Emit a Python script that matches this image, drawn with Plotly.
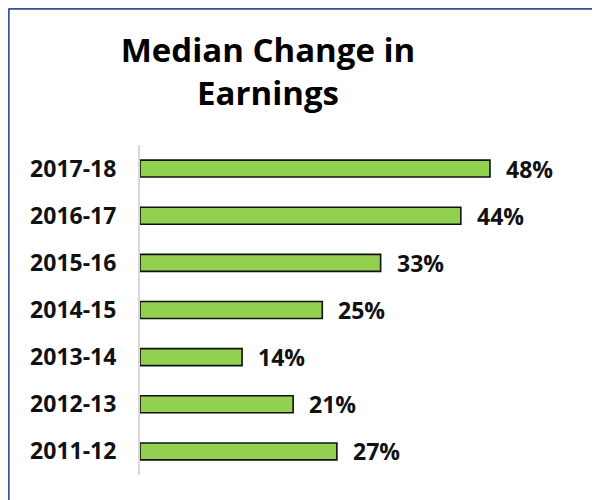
import plotly.graph_objects as go

categories = ["2011-12", "2012-13", "2013-14", "2014-15", "2015-16", "2016-17", "2017-18"]
values = [27, 21, 14, 25, 33, 44, 48]
labels = [f"{v}%" for v in values]

FONT = "Open Sans"
L, R, T, B = 132, 10, 137, 33
PW = 600 - L - R
PH = 500 - T - B

fig = go.Figure()
fig.add_trace(go.Bar(
    y=categories, x=values, orientation="h",
    marker=dict(color="#92d050", line=dict(color="#111111", width=1.6)),
    width=0.36,
    hoverinfo="skip",
))

for c, v, t in zip(categories, values, labels):
    fig.add_annotation(x=v, y=c, xref="x", yref="y", text=t, showarrow=False,
                       xanchor="left", yanchor="middle", xshift=14,
                       font=dict(family=FONT, size=23, color="#111111", weight="bold"))

# L-shaped blue frame (top and left edges)
fx = (0.6 - L) / PW
fy = (500 - B - 0.6) / PH
fig.add_shape(type="line", xref="paper", yref="paper",
              x0=fx, x1=1.2, y0=fy, y1=fy,
              line=dict(color="#2f5597", width=2.2))
fig.add_shape(type="line", xref="paper", yref="paper",
              x0=fx, x1=fx, y0=-0.2, y1=fy,
              line=dict(color="#2f5597", width=2.2))

fig.update_layout(
    width=600, height=500,
    margin=dict(l=L, r=R, t=T, b=B, autoexpand=False),
    paper_bgcolor="white", plot_bgcolor="white",
    showlegend=False,
    title=dict(text="Median Change in<br>Earnings", xref="container", yref="container",
               x=260 / 600, y=1 - 54 / 500, xanchor="center", yanchor="middle",
               font=dict(family=FONT, size=33, color="#000000", weight="bold")),
    xaxis=dict(range=[0, PW / (350 / 48)], visible=False),
    yaxis=dict(type="category", categoryorder="array", categoryarray=categories,
               showline=True, linecolor="#d9d9d9", linewidth=2, showgrid=False,
               ticks="", ticklabelstandoff=17, automargin=False,
               tickfont=dict(family=FONT, size=23, color="#111111", weight="bold")),
)

fig.write_html("out.html")
